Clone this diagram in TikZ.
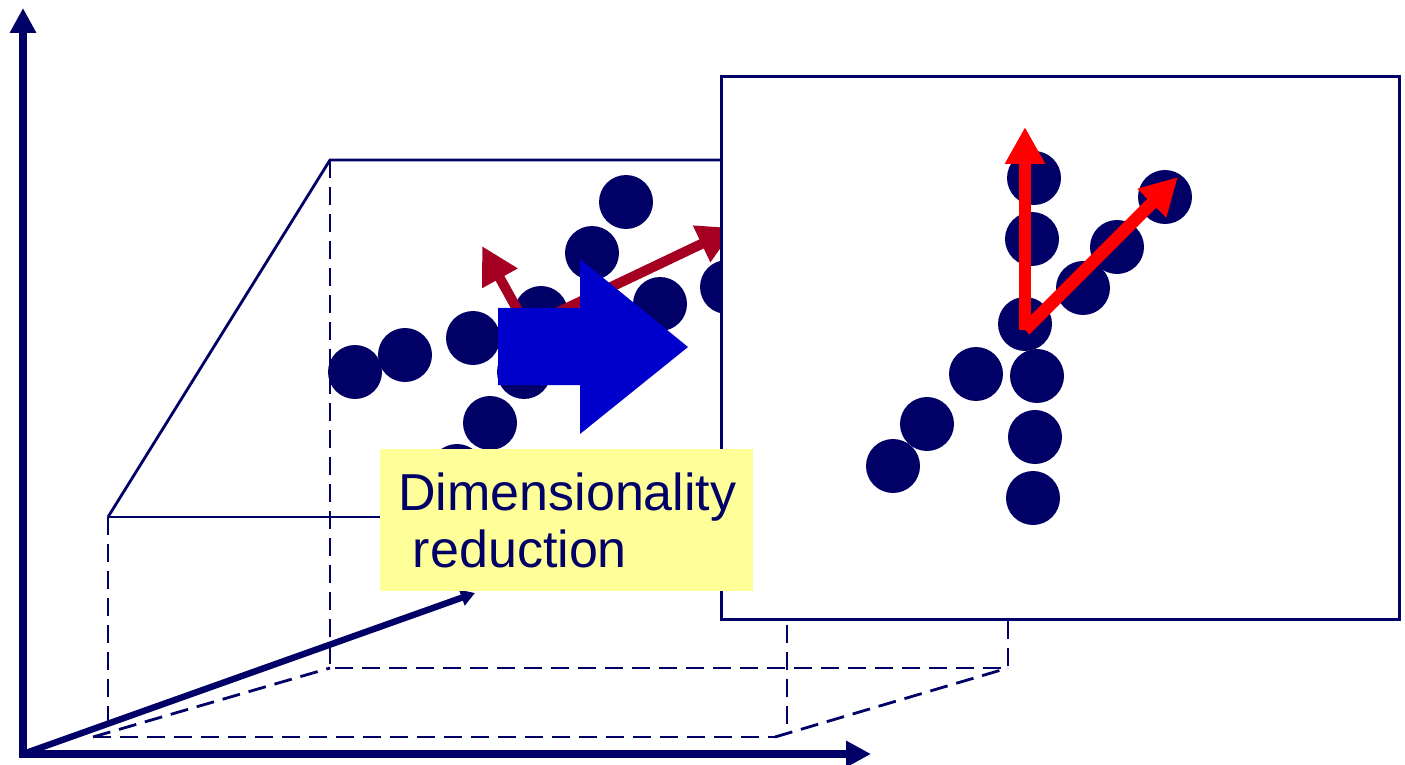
\documentclass[tikz,border=0pt]{standalone}
\usepackage{fontspec}
\setmainfont{Liberation Sans}
\usetikzlibrary{arrows.meta}
\definecolor{cnavy}{HTML}{000066}
\definecolor{cdarkred}{HTML}{A50021}
\definecolor{cred}{HTML}{FF0000}
\definecolor{cblue}{HTML}{0000CC}
\definecolor{cyellow}{HTML}{FFFF99}
\tikzset{
  axis/.style={draw=cnavy, line width=4pt, -{Triangle[length=12.5pt, width=12.5pt]}},
  edge/.style={draw=cnavy, line width=1.4pt},
  hidden/.style={edge, dash pattern=on 9pt off 4.5pt},
  dot/.style={fill=cnavy},
  pcarrow/.style={draw=#1, line width=5pt, -{Triangle[length=18.5pt, width=19pt]}},
  pcarrow/.default=cdarkred,
  labelbox/.style={fill=cyellow, text=cnavy, align=left, text width=168.5pt, inner xsep=9pt, inner ysep=0pt,
    minimum height=71pt, font=\fontsize{26pt}{28.5pt}\selectfont},
  panel/.style={draw=cnavy, fill=white, line width=1.3pt, inner sep=0pt, minimum width=339pt, minimum height=271.5pt},
}

\begin{document}
\begin{tikzpicture}[x=0.5pt, y=-0.5pt]
  \useasboundingbox (0,0) rectangle (1405,765);
  % corners of the 3d box
  \coordinate (bt) at (330,160);
  \coordinate (bbl) at (330,668);
  \coordinate (bbr) at (1008,668);
  \coordinate (btr) at (1008,160);
  \coordinate (ft) at (108,517);
  \coordinate (ftr) at (787,517);
  \coordinate (fbl) at (93,737);
  \coordinate (fbr) at (775,737);
  % back face
  \draw[edge] (ft) -- (bt) -- (btr);
  \draw[hidden] (bt) -- (bbl) -- (bbr) -- (btr);
  \draw[hidden] (fbl) -- (bbl);
  \draw[hidden] (fbr) -- (bbr);
  % front face
  \draw[edge] (ft) -- (ftr);
  \draw[hidden] (ft) -- (108,730);
  \draw[hidden] (ftr) -- (787,730);
  \draw[hidden] (fbl) -- (fbr);
  % data in 3d
  \foreach \px/\py in {626/202, 592/253, 660/304, 727/287, 541/313, 473/338, 405/355, 355/372, 524/372, 490/423, 457/471}
    \fill[dot] (\px,\py) circle[radius=13.5pt];
  % principal directions
  \coordinate (pc0) at (527,327);
  \coordinate (pc1) at (482,246);
  \coordinate (pc2) at (735,228);
  \draw[pcarrow] (pc0) -- (pc1);
  \draw[pcarrow] (pc0) -- (pc2);
  % big arrow
  \fill[cblue] (498,308) -- (580,308) -- (580,259) -- (688,347) -- (580,434) -- (580,385) -- (498,385) -- cycle;
  % axes
  \coordinate (o) at (23,754);
  \coordinate (ytip) at (23,8);
  \coordinate (xtip) at (871,754);
  \coordinate (ztip) at (475,593);
  \draw[axis] (23,758) -- (ytip);
  \draw[axis] (19,754) -- (xtip);
  \draw[draw=cnavy, line width=3.2pt, -{Triangle[length=7pt, width=8pt]}] (o) -- (ztip);
  % projected data
  \node[panel, anchor=north west] (proj) at (720,75) {};
  \foreach \px/\py in {1034/178, 1032/239, 1117/247, 1165/197, 1083/288, 1025/324, 976/374, 1037/376, 927/424, 893/466, 1035/437, 1033/498}
    \fill[dot] (\px,\py) circle[radius=13.5pt];
  \coordinate (qc0) at (1025,330);
  \coordinate (qc1) at (1025,127);
  \coordinate (qc2) at (1178,177);
  \draw[pcarrow=cred, line width=6.3pt] (qc0) -- (qc1);
  \draw[pcarrow=cred, line width=6.3pt] (qc0) -- (qc2);
  % label
  \node[labelbox, anchor=north west] (lbl) at (380,449) {Dimensionality\\\hspace*{0.28em}reduction};
\end{tikzpicture}
\end{document}
